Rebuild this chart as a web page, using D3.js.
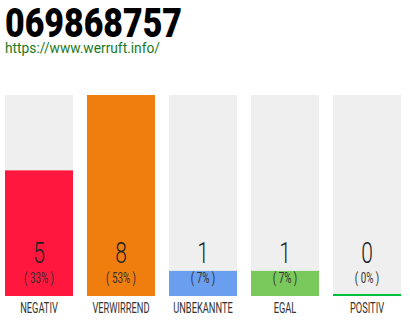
<!DOCTYPE html>
<html>
<head>
<meta charset="utf-8">
<script src="https://cdn.jsdelivr.net/npm/d3@7"></script>
<style>
  body { margin: 0; background: #fff; }
  text { font-family: Roboto, "Liberation Sans", sans-serif; }
</style>
</head>
<body>
<div id="chart"></div>
<script>
var categories = ["NEGATIV", "VERWIRREND", "UNBEKANNTE", "EGAL", "POSITIV"];
var counts = [5, 8, 1, 1, 0];
var percents = ["( 33% )", "( 53% )", "( 7% )", "( 7% )", "( 0% )"];
var colors = ["#ff173d", "#f07e0e", "#6a9eee", "#7ac95c", "#00c040"];

var width = 410, height = 320;

var svg = d3.select("#chart").append("svg")
  .attr("width", width)
  .attr("height", height);

// title + url
svg.append("text")
  .attr("x", 5).attr("y", 37)
  .attr("font-size", 40)
  .attr("font-weight", 900)
  .attr("textLength", 177)
  .attr("lengthAdjust", "spacingAndGlyphs")
  .attr("fill", "#000")
  .text("069868757");

svg.append("text")
  .attr("x", 5).attr("y", 53)
  .attr("font-family", "Liberation Sans, Arial, sans-serif")
  .attr("font-size", 14)
  .attr("textLength", 155)
  .attr("lengthAdjust", "spacingAndGlyphs")
  .attr("fill", "#1a7a22")
  .text("https://www.werruft.info/");

var x = d3.scaleBand()
  .domain(categories)
  .range([5, 401])
  .paddingInner(14 / 82)
  .paddingOuter(0);

var y = d3.scaleLinear()
  .domain([0, d3.max(counts)])
  .range([296, 95]);

var g = svg.selectAll(".bar")
  .data(categories)
  .enter().append("g")
  .attr("class", "bar");

// grey background
g.append("rect")
  .attr("x", d => x(d))
  .attr("y", y(d3.max(counts)))
  .attr("width", x.bandwidth())
  .attr("height", y(0) - y(d3.max(counts)))
  .attr("fill", "#efefef");

// value bar (zero gets a thin line)
g.append("rect")
  .attr("x", d => x(d))
  .attr("y", (d, i) => counts[i] ? y(counts[i]) : y(0) - 2)
  .attr("width", x.bandwidth())
  .attr("height", (d, i) => counts[i] ? y(0) - y(counts[i]) : 2)
  .attr("fill", (d, i) => colors[i]);

function squeezed(sel, cx, cy, size, weight, fill, sx, txt) {
  sel.append("text")
    .attr("transform", "translate(" + cx + "," + cy + ") scale(" + sx + ",1)")
    .attr("text-anchor", "middle")
    .attr("font-size", size)
    .attr("font-weight", weight)
    .attr("fill", fill)
    .text(txt);
}

g.each(function (d, i) {
  var sel = d3.select(this);
  var cx = x(d) + x.bandwidth() / 2;
  squeezed(sel, cx, 263, 30, 300, "#222", 0.7, counts[i]);
  squeezed(sel, cx, 283, 14, 400, "#333", 0.7, percents[i]);
  squeezed(sel, cx, 313, 15, 400, "#333", 0.62, d);
});
</script>
</body>
</html>
